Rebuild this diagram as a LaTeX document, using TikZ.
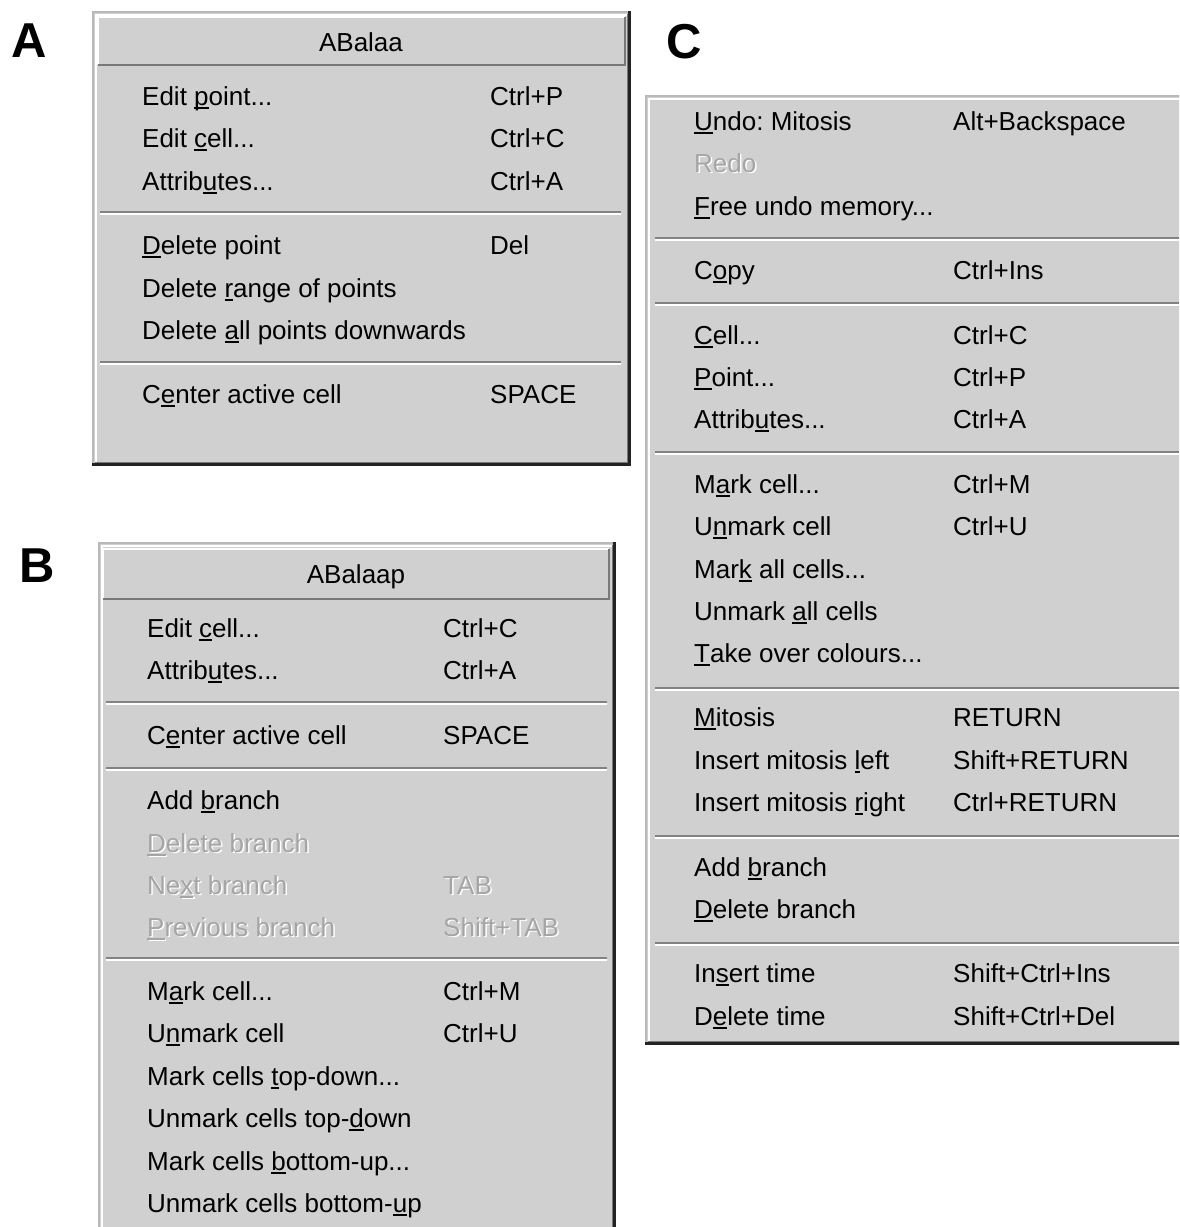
\documentclass[tikz,border=0pt]{standalone}
\usepackage{fontspec}
\newfontfamily\mfont{Liberation Sans}
\frenchspacing
\definecolor{menubg}{RGB}{208,208,208}
\definecolor{outeredge}{RGB}{185,185,185}
\definecolor{darkedge}{RGB}{35,35,35}
\definecolor{midedge}{RGB}{120,120,120}
\definecolor{sepdark}{RGB}{130,130,130}
\definecolor{distext}{RGB}{165,165,165}
\newsavebox\akbox
\newcommand\ak[1]{\sbox\akbox{#1}\rlap{\rule[-3.5pt]{\wd\akbox}{1.6pt}}\usebox\akbox}
\tikzset{
  itm/.style={anchor=base west, inner sep=0pt, font=\mfont\fontsize{26}{30}\selectfont, text=black},
  ttl/.style={anchor=base, inner sep=0pt, font=\mfont\fontsize{26}{30}\selectfont, text=black},
  dis/.style={itm, text=distext},
  disw/.style={itm, text=white},
  panel/.style={anchor=base west, inner sep=0pt, font=\mfont\bfseries\fontsize{49}{52}\selectfont},
  sepd/.style={draw=sepdark, line width=1.6pt},
  sepl/.style={draw=white, line width=1.6pt},
}
\newcommand\mitem[6]{\node[itm] (#1) at (#2,#3) {#4}; \node[itm] (#1k) at (#5,#3) {#6};}
\newcommand\mtext[4]{\node[itm] (#1) at (#2,#3) {#4};}
\newcommand\mdis[4]{\node[disw] (#1w) at (#2+1.5,#3+1.5) {#4}; \node[dis] (#1) at (#2,#3) {#4};}
\newcommand\msep[3]{\draw[sepd] (#1,#3) -- (#2,#3); \draw[sepl] (#1,#3+2) -- (#2,#3+2);}
\newcommand\mframe[4]{%
  \fill[menubg] (#1,#2) rectangle (#3,#4);
  \draw[outeredge, line width=1.5pt] (#1+0.75,#4) -- (#1+0.75,#2+0.75) -- (#3,#2+0.75);
  \draw[white, line width=2pt] (#1+3.5,#4-3) -- (#1+3.5,#2+3.5) -- (#3-3,#2+3.5);
  \draw[midedge, line width=1.5pt] (#1+3,#4-3.5) -- (#3-3.5,#4-3.5) -- (#3-3.5,#2+3);
  \draw[darkedge, line width=3pt] (#1,#4-1.5) -- (#3-1.5,#4-1.5) -- (#3-1.5,#2);
}
\newcommand\mtitle[4]{%
  \draw[white, line width=1.5pt] (#1,#4) -- (#1,#2) -- (#3,#2);
  \draw[midedge, line width=2pt] (#1,#4) -- (#3,#4) -- (#3,#2);
}
\begin{document}
\begin{tikzpicture}[x=1pt,y=-1pt]
\clip (0,0) rectangle (1179,1227);
\fill[white] (0,0) rectangle (1179,1227);

% panel letters
\node[panel] (lA) at (11,57) {A};
\node[panel] (lB) at (19,582) {B};
\node[panel] (lC) at (666,58) {C};

% ===== Menu A =====
\mframe{92}{11}{631}{466}
\mtitle{98}{17}{625}{65}
\node[ttl] (tA) at (361,51) {ABalaa};
\mitem{a1}{142}{105}{Edit \ak{p}oint...}{490}{Ctrl+P}
\mitem{a2}{142}{147}{Edit \ak{c}ell...}{490}{Ctrl+C}
\mitem{a3}{142}{190}{Attrib\ak{u}tes...}{490}{Ctrl+A}
\msep{100}{621}{212}
\mitem{a4}{142}{254}{\ak{D}elete point}{490}{Del}
\mtext{a5}{142}{297}{Delete \ak{r}ange of points}
\mtext{a6}{142}{339}{Delete \ak{a}ll points downwards}
\msep{100}{621}{362}
\mitem{a7}{142}{403}{C\ak{e}nter active cell}{490}{SPACE}

% ===== Menu B =====
\mframe{98}{542}{616}{1250}
\mtitle{103}{549}{609}{599}
\node[ttl] (tB) at (356,583) {ABalaap};
\mitem{b1}{147}{637}{Edit \ak{c}ell...}{443}{Ctrl+C}
\mitem{b2}{147}{679}{Attrib\ak{u}tes...}{443}{Ctrl+A}
\msep{106}{607}{702}
\mitem{b3}{147}{744}{C\ak{e}nter active cell}{443}{SPACE}
\msep{106}{607}{768}
\mtext{b4}{147}{809}{Add \ak{b}ranch}
\mdis{b5}{147}{852}{\ak{D}elete branch}
\mdis{b6}{147}{894}{Ne\ak{x}t branch}
\mdis{b6k}{443}{894}{TAB}
\mdis{b7}{147}{936}{\ak{P}revious branch}
\mdis{b7k}{443}{936}{Shift+TAB}
\msep{106}{607}{958}
\mitem{b8}{147}{1000}{M\ak{a}rk cell...}{443}{Ctrl+M}
\mitem{b9}{147}{1042}{U\ak{n}mark cell}{443}{Ctrl+U}
\mtext{b10}{147}{1085}{Mark cells \ak{t}op-down...}
\mtext{b11}{147}{1127}{Unmark cells top-\ak{d}own}
\mtext{b12}{147}{1170}{Mark cells \ak{b}ottom-up...}
\mtext{b13}{147}{1212}{Unmark cells bottom-\ak{u}p}

% ===== Menu C =====
\mframe{645}{95}{1195}{1045}
\mitem{c1}{694}{130}{\ak{U}ndo: Mitosis}{953}{Alt+Backspace}
\mdis{c2}{694}{172}{Redo}
\mtext{c3}{694}{215}{\ak{F}ree undo memory...}
\msep{655}{1179}{238}
\mitem{c4}{694}{279}{C\ak{o}py}{953}{Ctrl+Ins}
\msep{655}{1179}{303}
\mitem{c5}{694}{344}{\ak{C}ell...}{953}{Ctrl+C}
\mitem{c6}{694}{386}{\ak{P}oint...}{953}{Ctrl+P}
\mitem{c7}{694}{428}{Attrib\ak{u}tes...}{953}{Ctrl+A}
\msep{655}{1179}{452}
\mitem{c8}{694}{493}{M\ak{a}rk cell...}{953}{Ctrl+M}
\mitem{c9}{694}{535}{U\ak{n}mark cell}{953}{Ctrl+U}
\mtext{c10}{694}{578}{Mar\ak{k} all cells...}
\mtext{c11}{694}{620}{Unmark \ak{a}ll cells}
\mtext{c12}{694}{662}{\ak{T}ake over colours...}
\msep{655}{1179}{688}
\mitem{c13}{694}{726}{\ak{M}itosis}{953}{RETURN}
\mitem{c14}{694}{769}{Insert mitosis \ak{l}eft}{953}{Shift+RETURN}
\mitem{c15}{694}{811}{Insert mitosis \ak{r}ight}{953}{Ctrl+RETURN}
\msep{655}{1179}{836}
\mtext{c16}{694}{876}{Add \ak{b}ranch}
\mtext{c17}{694}{918}{\ak{D}elete branch}
\msep{655}{1179}{943}
\mitem{c18}{694}{982}{In\ak{s}ert time}{953}{Shift+Ctrl+Ins}
\mitem{c19}{694}{1025}{D\ak{e}lete time}{953}{Shift+Ctrl+Del}
\end{tikzpicture}
\end{document}
